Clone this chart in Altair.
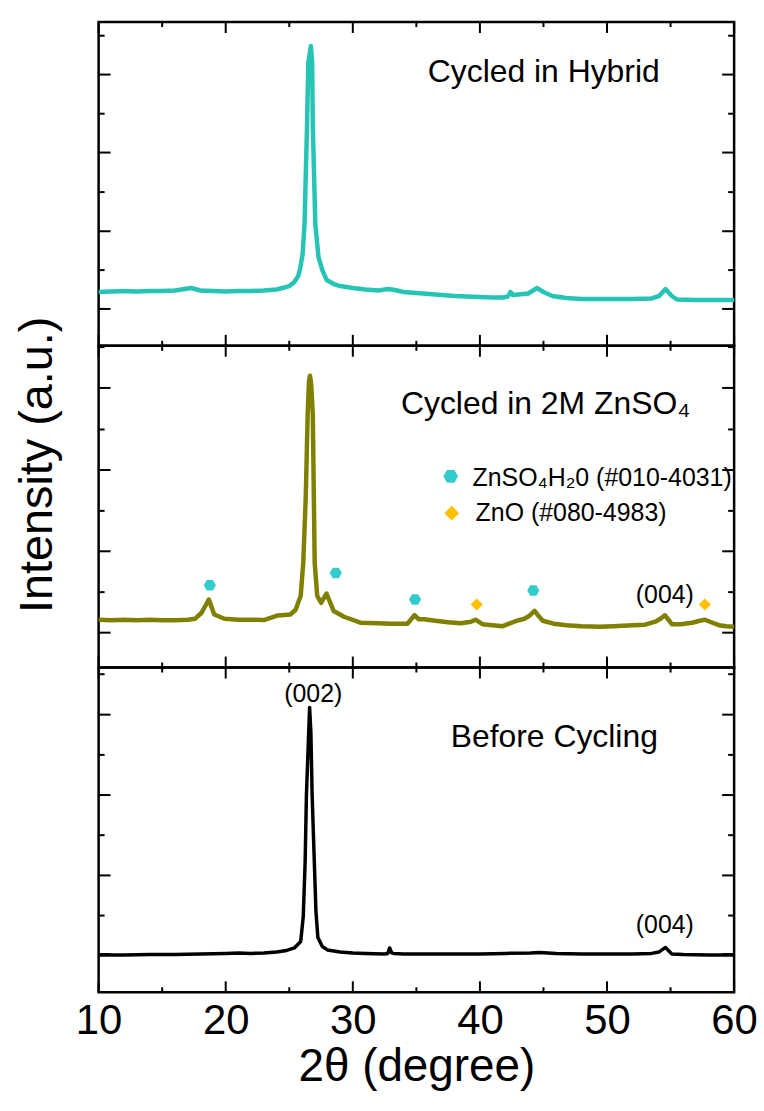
import altair as alt
import pandas as pd

FONT = "Liberation Sans"

# ---------------- data ----------------
# Top panel: Cycled in Hybrid (teal)
HYB_2THETA = [10.0, 11.0, 12.0, 13.0, 14.0, 15.0, 16.0, 17.3, 18.0, 19.0, 20.0, 21.0, 22.0, 23.0,
              24.0, 24.6, 25.0, 25.4, 25.7, 25.85, 26.05, 26.2, 26.3, 26.4, 26.5, 26.6, 26.7,
              26.8, 26.85, 26.95, 27.05, 27.3, 27.6, 27.95, 28.5, 29.0, 30.0, 31.0, 32.0, 32.8,
              33.3, 34.0, 35.0, 36.0, 37.0, 38.0, 39.0, 40.0, 41.0, 41.8, 42.2, 42.4, 42.6, 43.0,
              43.8, 44.5, 45.0, 45.7, 46.8, 48.0, 50.0, 52.0, 53.5, 54.1, 54.6, 55.1, 55.5, 57.0,
              59.0, 60.0]
HYB_INT = [540, 545, 550, 545, 550, 550, 555, 580, 555, 550, 545, 550, 550, 555,
           565, 585, 600, 640, 700, 770, 920, 1220, 1720, 2220, 2850, 2920, 3010,
           2850, 2220, 1720, 1220, 890, 760, 660, 620, 600, 580, 565, 555, 570,
           560, 540, 530, 520, 510, 500, 495, 490, 485, 485, 495, 540, 510, 515,
           525, 580, 540, 500, 480, 470, 470, 470, 475, 500, 570, 500, 465, 460,
           460, 460]

# Middle panel: Cycled in 2M ZnSO4 (olive)
ZN_2THETA = [10.0, 11.0, 12.0, 13.0, 14.0, 15.0, 16.0, 17.0, 17.6, 18.1, 18.67, 19.1, 19.9, 21.0,
             22.0, 23.0, 24.1, 25.1, 25.5, 25.9, 26.1, 26.3, 26.45, 26.55, 26.63, 26.72, 26.85,
             27.0, 27.2, 27.5, 27.93, 28.5, 29.3, 30.6, 32.0, 33.0, 34.3, 34.85, 35.2, 35.6,
             36.5, 37.5, 38.5, 39.3, 39.65, 40.2, 41.0, 41.8, 42.3, 42.9, 43.5, 43.9, 44.3, 44.6,
             44.95, 45.8, 46.8, 48.0, 49.4, 50.5, 52.0, 53.0, 53.8, 54.2, 54.55, 54.9, 55.1,
             55.8, 56.7, 57.3, 57.7, 58.2, 58.8, 59.4, 60.0]
ZN_INT = [480, 475, 480, 475, 480, 475, 475, 480, 490, 550, 683, 533, 490, 480,
          480, 477, 523, 533, 580, 720, 1050, 1720, 2550, 2870, 2930, 2850, 2550,
          1050, 720, 650, 743, 567, 510, 450, 445, 440, 440, 525, 485, 485,
          470, 455, 445, 460, 480, 435, 425, 415, 440, 470, 490, 520, 570, 520,
          470, 440, 425, 415, 410, 415, 425, 430, 460, 490, 525, 470, 435,
          435, 450, 470, 480, 455, 425, 415, 410]

# Bottom panel: Before Cycling (black)
PR_2THETA = [10.0, 12.0, 14.0, 16.0, 18.0, 20.0, 21.0, 22.0, 23.0, 24.0, 24.8, 25.4, 25.9, 26.1,
             26.25, 26.35, 26.5, 26.6, 26.7, 26.8, 26.97, 27.1, 27.25, 27.6, 28.0, 29.0, 30.0,
             31.0, 32.5, 32.75, 32.9, 33.05, 33.2, 34.0, 36.0, 38.0, 40.0, 42.0, 44.0, 44.7,
             46.0, 48.0, 50.0, 52.0, 53.5, 54.1, 54.6, 55.1, 56.0, 58.0, 60.0]
PR_INT = [375, 375, 380, 380, 385, 390, 395, 390, 395, 405, 420, 445, 510, 760,
          1310, 1980, 2510, 2860, 2610, 1980, 1310, 810, 550, 460, 425, 405, 395,
          390, 385, 390, 445, 395, 390, 385, 385, 385, 385, 390, 395, 400,
          390, 385, 385, 385, 390, 405, 450, 385, 380, 375, 375]

# Phase markers (middle panel)
HEX_2THETA = [18.75, 28.66, 34.9, 44.2]
HEX_INT = [827, 950, 683, 773]
DIA_2THETA = [39.75, 57.7]
DIA_INT = [633, 633]

# Axis tick positions
X_MAJOR = [10, 20, 30, 40, 50, 60]
X_MINOR = [15, 25, 35, 45, 55]
HYB_YT_MAJOR = [370, 1150, 1940, 2723]
HYB_YT_MINOR = [760, 1543, 2330, 3113]
ZN_YT_MAJOR = [350, 1167, 1983, 2807]
ZN_YT_MINOR = [757, 1573, 2390, 3217]
PR_YT_MAJOR = [383, 1173, 1980, 2787]
PR_YT_MINOR = [770, 1577, 2383, 3193]

W = 638
HEX = "M-1,0L-0.5,-0.866L0.5,-0.866L1,0L0.5,0.866L-0.5,0.866Z"
DIA = "M0,-1L1,0L0,1L-1,0Z"


def panel(xs, ys, color, sw, h, ymax, yt_major, yt_minor, texts, xaxis=None, yaxis=None, extra=None):
    xsc = alt.Scale(domain=[10, 60], nice=False, zero=False)
    ysc = alt.Scale(domain=[0, ymax], nice=False, zero=False)
    X = lambda: alt.X("two_theta:Q", scale=xsc, axis=xaxis)
    Y = lambda: alt.Y("intensity:Q", scale=ysc, axis=yaxis)

    line = alt.Chart(pd.DataFrame({"two_theta": xs, "intensity": ys})).mark_line(
        color=color, strokeWidth=sw, strokeJoin="round", strokeCap="round", clip=True
    ).encode(x=X(), y=Y())

    layers = [line]
    xmaj = pd.DataFrame({"two_theta": X_MAJOR})
    xmin = pd.DataFrame({"two_theta": X_MINOR})
    for d, L in ((xmaj, 11), (xmin, 5)):
        layers.append(alt.Chart(d).mark_rule(color="black", strokeWidth=2).encode(
            x=X(), y=alt.value(0), y2=alt.value(L)))
        layers.append(alt.Chart(d).mark_rule(color="black", strokeWidth=2).encode(
            x=X(), y=alt.value(h - L), y2=alt.value(h)))
    ymaj = pd.DataFrame({"intensity": yt_major})
    ymin = pd.DataFrame({"intensity": yt_minor})
    for d, L in ((ymaj, 12), (ymin, 6)):
        layers.append(alt.Chart(d).mark_rule(color="black", strokeWidth=2).encode(
            y=Y(), x=alt.value(0), x2=alt.value(L)))
        layers.append(alt.Chart(d).mark_rule(color="black", strokeWidth=2).encode(
            y=Y(), x=alt.value(W - L), x2=alt.value(W)))

    for (tx, ty, label, size, align) in texts:
        layers.append(alt.Chart(pd.DataFrame({"two_theta": [tx], "intensity": [ty], "label": [label]}))
                      .mark_text(font=FONT, fontSize=size, align=align, baseline="alphabetic", color="black")
                      .encode(x=X(), y=Y(), text="label:N"))
    if extra:
        layers += extra(X, Y)
    return alt.layer(*layers).properties(width=W, height=h)


def markers(X, Y):
    hexd = pd.DataFrame({"two_theta": HEX_2THETA + [37.70], "intensity": HEX_INT + [1920],
                         "sz": [150] * 4 + [220]})
    diad = pd.DataFrame({"two_theta": DIA_2THETA + [37.78], "intensity": DIA_INT + [1550],
                         "sz": [150] * 2 + [220]})
    return [
        alt.Chart(hexd).mark_point(shape=HEX, filled=True, color="#33CCCC", opacity=1, strokeWidth=0)
        .encode(x=X(), y=Y(), size=alt.Size("sz:Q", scale=None, legend=None)),
        alt.Chart(diad).mark_point(shape=DIA, filled=True, color="#FFC000", opacity=1, strokeWidth=0)
        .encode(x=X(), y=Y(), size=alt.Size("sz:Q", scale=None, legend=None)),
    ]


top = panel(HYB_2THETA, HYB_INT, "#26C4B4", 4.5, 325, 3250, HYB_YT_MAJOR, HYB_YT_MINOR,
            [(35.9, 2650, "Cycled in Hybrid", 32, "left")])

mid_yaxis = alt.Axis(title="Intensity (a.u.)", labels=False, ticks=False, domain=False, grid=False,
                     titleFont=FONT, titleFontSize=47, titleFontWeight="normal", titleColor="black",
                     titleX=-61, titleY=119, titleAngle=270, titleAlign="center", titleBaseline="middle")
mid = panel(ZN_2THETA, ZN_INT, "#808000", 4.5, 323, 3230, ZN_YT_MAJOR, ZN_YT_MINOR,
            [(33.79, 2550, "Cycled in 2M ZnSO₄", 32, "left"),
             (39.42, 1820, "ZnSO₄H₂0 (#010-4031)", 25, "left"),
             (39.66, 1470, "ZnO (#080-4983)", 25, "left"),
             (54.55, 650, "(004)", 25, "center")],
            yaxis=mid_yaxis, extra=markers)

bot_xaxis = alt.Axis(values=X_MAJOR, format="d", labelFont=FONT, labelFontSize=42, labelColor="black",
                     labelPadding=8, labelOverlap=False, labelFlush=False, ticks=False, domain=False,
                     grid=False, title="2θ (degree)", titleFont=FONT, titleFontSize=46,
                     titleFontWeight="normal", titleColor="black", titlePadding=4)
bot = panel(PR_2THETA, PR_INT, "#000000", 3.5, 326, 3260, PR_YT_MAJOR, PR_YT_MINOR,
            [(26.89, 2910, "(002)", 25, "center"),
             (54.55, 590, "(004)", 25, "center"),
             (37.7, 2460, "Before Cycling", 32, "left")],
            xaxis=bot_xaxis)

chart = alt.vconcat(top, mid, bot, spacing=0, bounds="flush").properties(
    padding={"left": 12, "top": 17, "right": 5, "bottom": 5}
).configure_view(stroke="black", strokeWidth=2.5)

chart.save("out.html", embed_options={"renderer": "svg", "actions": False})
